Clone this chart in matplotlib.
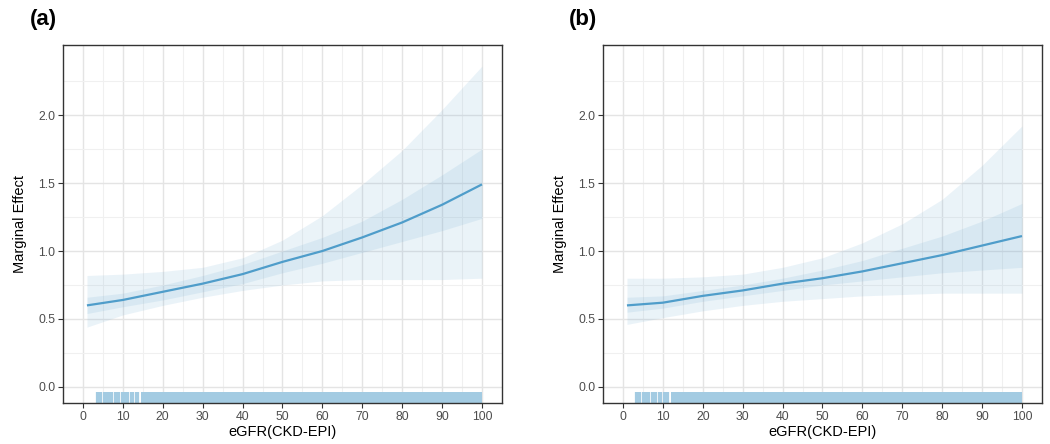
import matplotlib
matplotlib.use("Agg")
import matplotlib.pyplot as plt
import numpy as np

plt.rcParams['font.family'] = ['Liberation Sans', 'DejaVu Sans']

# ---- data ----
egfr = [1, 10, 20, 30, 40, 50, 60, 70, 80, 90, 100]

a_effect = [0.60, 0.64, 0.70, 0.76, 0.83, 0.92, 1.00, 1.10, 1.21, 1.34, 1.49]
a_inner_lo = [0.54, 0.59, 0.64, 0.70, 0.76, 0.84, 0.91, 0.99, 1.07, 1.15, 1.24]
a_inner_hi = [0.66, 0.69, 0.75, 0.82, 0.90, 1.00, 1.10, 1.22, 1.38, 1.56, 1.75]
a_outer_lo = [0.44, 0.53, 0.60, 0.66, 0.71, 0.75, 0.78, 0.79, 0.79, 0.79, 0.80]
a_outer_hi = [0.82, 0.83, 0.85, 0.88, 0.95, 1.08, 1.26, 1.49, 1.74, 2.04, 2.36]

b_effect = [0.60, 0.62, 0.67, 0.71, 0.76, 0.80, 0.85, 0.91, 0.97, 1.04, 1.11]
b_inner_lo = [0.55, 0.58, 0.63, 0.67, 0.71, 0.75, 0.78, 0.81, 0.84, 0.86, 0.88]
b_inner_hi = [0.66, 0.67, 0.71, 0.75, 0.80, 0.86, 0.93, 1.02, 1.11, 1.22, 1.35]
b_outer_lo = [0.46, 0.51, 0.56, 0.60, 0.63, 0.65, 0.67, 0.68, 0.69, 0.69, 0.69]
b_outer_hi = [0.80, 0.80, 0.81, 0.83, 0.88, 0.95, 1.06, 1.20, 1.38, 1.63, 1.92]

# rug: sparse observed values at low eGFR, then continuous coverage
a_rug_sparse = [3.4, 3.9, 4.5, 5.2, 5.8, 6.3, 6.9, 7.4, 8.0, 8.6, 9.1, 9.7,
                10.2, 10.8, 11.3, 12.1, 12.6, 13.3, 13.8]
a_rug_dense = (14.6, 100.0)
b_rug_sparse = [3.2, 3.7, 4.3, 5.0, 5.6, 6.1, 6.6, 7.3, 7.9, 8.4, 9.0, 9.6,
                10.2, 10.8, 11.4]
b_rug_dense = (12.0, 100.0)

x_ticks = [0, 10, 20, 30, 40, 50, 60, 70, 80, 90, 100]
y_ticks = [0.0, 0.5, 1.0, 1.5, 2.0]
x_label = "eGFR(CKD-EPI)"
y_label = "Marginal Effect"
panel_labels = ["(a)", "(b)"]

line_color = "#4f9dca"
band_color = "#5aa0cc"
rug_color = "#a3cbe2"

fig = plt.figure(figsize=(10.5, 4.44), dpi=100)
ax_a = fig.add_axes([0.060, 0.0923, 0.418, 0.8063])
ax_b = fig.add_axes([0.5743, 0.0923, 0.418, 0.8063])

panels = [
    (ax_a, a_effect, a_inner_lo, a_inner_hi, a_outer_lo, a_outer_hi, a_rug_sparse, a_rug_dense),
    (ax_b, b_effect, b_inner_lo, b_inner_hi, b_outer_lo, b_outer_hi, b_rug_sparse, b_rug_dense),
]

for i, (ax, eff, ilo, ihi, olo, ohi, rs, rd) in enumerate(panels):
    ax.set_xlim(-5, 105)
    ax.set_ylim(-0.118, 2.515)
    # grid
    ax.set_xticks(x_ticks)
    ax.set_yticks(y_ticks)
    ax.set_xticks([v + 5 for v in x_ticks[:-1]], minor=True)
    ax.set_yticks([0.25, 0.75, 1.25, 1.75, 2.25], minor=True)
    ax.grid(which='major', color='#e4e4e4', linewidth=1.0)
    ax.grid(which='minor', color='#f0f0f0', linewidth=0.8)
    ax.set_axisbelow(True)
    ax.tick_params(which='minor', length=0)
    ax.tick_params(which='major', length=3.5, width=0.8, color='#333333',
                   labelcolor='#4d4d4d', labelsize=8.8, pad=2)
    ax.set_yticklabels([f"{v:.1f}" for v in y_ticks])
    for s in ax.spines.values():
        s.set_color('#333333')
        s.set_linewidth(1.0)

    ax.fill_between(egfr, olo, ohi, color=band_color, alpha=0.12, linewidth=0)
    ax.fill_between(egfr, ilo, ihi, color=band_color, alpha=0.12, linewidth=0)
    ax.plot(egfr, eff, color=line_color, linewidth=1.6, solid_capstyle='butt')

    trans = ax.get_xaxis_transform()
    ax.vlines(rs, 0.0, 0.03, transform=trans, color=rug_color, linewidth=1.6)
    ax.fill_between(list(rd), [0, 0], [0.03, 0.03], transform=trans,
                    color=rug_color, linewidth=0)

    ax.set_xlabel(x_label, fontsize=10.5, color='black', labelpad=2)
    ax.set_ylabel(y_label, fontsize=10.5, color='black', labelpad=8)

fig.text(0.028, 0.955, panel_labels[0], fontsize=16, fontweight='bold', va='center')
fig.text(0.542, 0.955, panel_labels[1], fontsize=16, fontweight='bold', va='center')

fig.savefig("out.png", dpi=100, facecolor='white')
